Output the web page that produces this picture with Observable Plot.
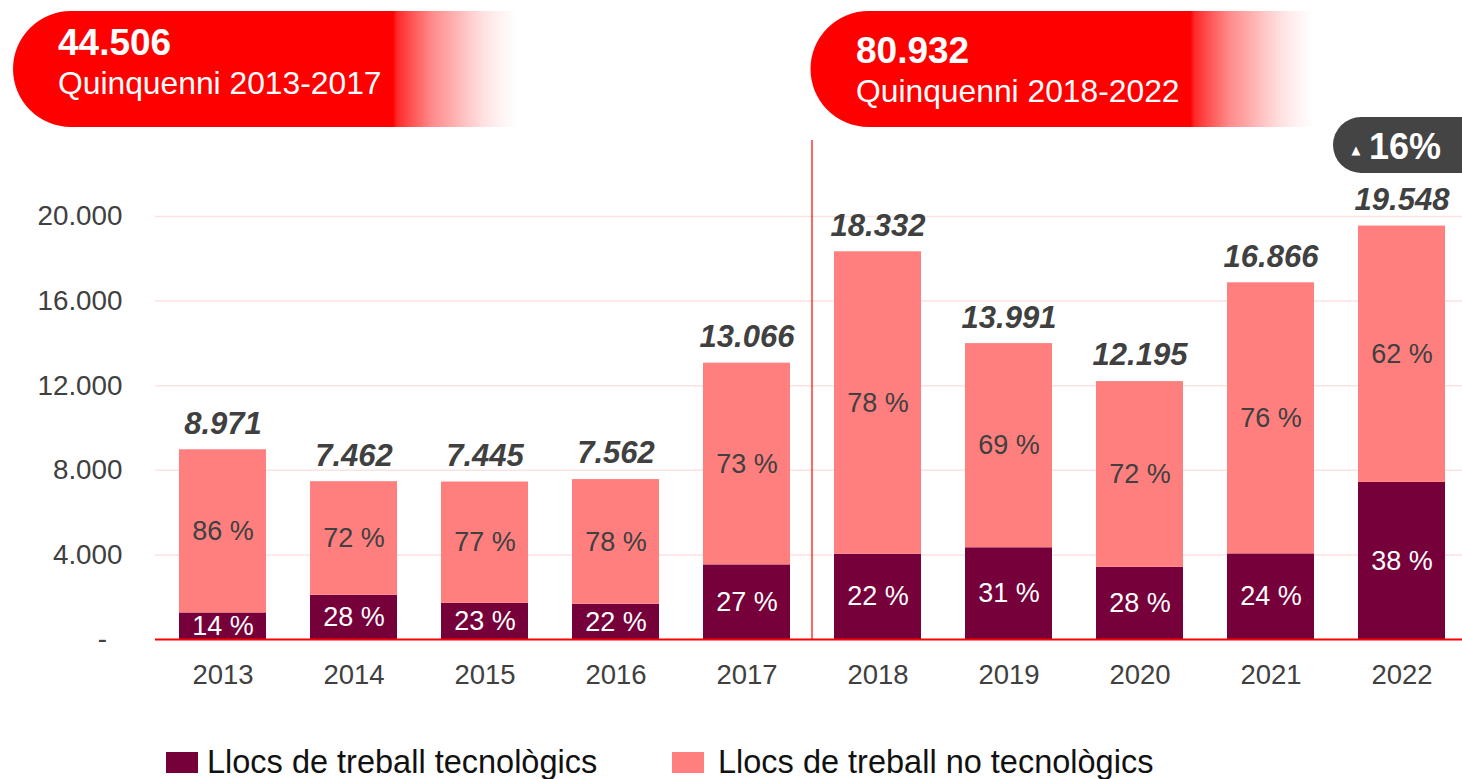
<!DOCTYPE html>
<html>
<head>
<meta charset="utf-8">
<script src="https://cdn.jsdelivr.net/npm/d3@7"></script>
<script src="https://cdn.jsdelivr.net/npm/@observablehq/plot@0.6"></script>
<style>
  body { margin: 0; background: #fff; font-family: "Liberation Sans", Arial, Helvetica, sans-serif; }
  #wrap { position: relative; width: 1462px; height: 779px; overflow: hidden; background: #fff; }
  #chart { position: absolute; left: 0; top: 0; }
  .lg-sw { position: absolute; width: 32px; height: 21px; }
  .lg-tx { position: absolute; font-size: 32.5px; line-height: 32px; color: #111; white-space: nowrap; }
</style>
</head>
<body>
<div id="wrap">
  <div id="chart"></div>
  <div id="legend"></div>
</div>
<script>
// ---- data ----
const years = ["2013", "2014", "2015", "2016", "2017", "2018", "2019", "2020", "2021", "2022"];
const totals = [8971, 7462, 7445, 7562, 13066, 18332, 13991, 12195, 16866, 19548];
const tech = [1256, 2089, 1712, 1664, 3528, 4033, 4337, 3415, 4048, 7428];
const nonTech = [7715, 5373, 5733, 5898, 9538, 14299, 9654, 8780, 12818, 12120];
const techPct = [14, 28, 23, 22, 27, 22, 31, 28, 24, 38];
const nonTechPct = [86, 72, 77, 78, 73, 78, 69, 72, 76, 62];
const yTicks = [0, 4000, 8000, 12000, 16000, 20000];
const seriesNames = ["Llocs de treball tecnològics", "Llocs de treball no tecnològics"];
const seriesColors = ["#76003a", "#ff7f7f"];
const periodLabels = ["Quinquenni 2013-2017", "Quinquenni 2018-2022"];
const periodTotals = ["44.506", "80.932"];
const growthLabel = "16%";

// ---- tables built from the arrays ----
const locale = d3.formatLocale({decimal: ",", thousands: ".", grouping: [3], currency: ["", ""]});
const fmt = locale.format(",d");

const rows = [];
years.forEach((y, i) => {
  rows.push({year: y, series: seriesNames[0], y1: 0, y2: tech[i], mid: tech[i] / 2, label: techPct[i] + " %"});
  rows.push({year: y, series: seriesNames[1], y1: tech[i], y2: tech[i] + nonTech[i], mid: tech[i] + nonTech[i] / 2, label: nonTechPct[i] + " %"});
});
const totalRows = years.map((y, i) => ({year: y, total: totals[i]}));

const W = 1462, H = 700;
const chart = Plot.plot({
  width: W,
  height: H,
  marginLeft: 155,
  marginRight: 0,
  marginTop: 216,
  marginBottom: 61,
  style: {fontFamily: '"Liberation Sans", Arial, Helvetica, sans-serif', fontSize: "27px", color: "#404040", background: "transparent", overflow: "visible"},
  x: {domain: years, range: [155, 1469], paddingInner: 0.337, paddingOuter: 0.173, label: null},
  y: {domain: [0, 20000], label: null},
  color: {domain: seriesNames, range: seriesColors},
  marks: [
    Plot.ruleY(yTicks.filter(d => d > 0), {stroke: "#fde2e2", strokeWidth: 1.5}),
    Plot.axisY({ticks: yTicks, tickSize: 0, tickPadding: 33, fontSize: 27.8,
      tickFormat: d => d === 0 ? "-\u00a0\u00a0" : fmt(d), label: null}),
    Plot.axisX({tickSize: 0, tickPadding: 25, fontSize: 27.5, label: null}),
    Plot.barY(rows, {x: "year", y1: "y1", y2: "y2", fill: "series"}),
    Plot.text(rows.filter(d => d.series === seriesNames[0]), {x: "year", y: "mid", text: "label", fill: "#ffffff", fontSize: 27}),
    Plot.text(rows.filter(d => d.series === seriesNames[1]), {x: "year", y: "mid", text: "label", fill: "#404040", fontSize: 27}),
    Plot.text(totalRows, {x: "year", y: "total", text: d => fmt(d.total), fill: "#404040", fontSize: 31,
      fontStyle: "italic", fontWeight: "bold", dy: -26}),
    Plot.ruleY([0], {stroke: "#ff0000", strokeWidth: 2})
  ]
});
document.getElementById("chart").appendChild(chart);

// ---- annotations drawn on top, positioned with the plot's own scales ----
const sx = chart.scale("x");
const sy = chart.scale("y");
const svg = d3.select(chart);
const gapLeft = sx.apply(years[4]) + sx.bandwidth;
const gapRight = sx.apply(years[5]);
const divX = (gapLeft + gapRight) / 2;

svg.append("line")
  .attr("x1", divX).attr("x2", divX)
  .attr("y1", 140).attr("y2", sy.apply(0))
  .attr("stroke", "#ff0000").attr("stroke-width", 1.2);

const defs = svg.append("defs");
const grad = defs.append("linearGradient").attr("id", "bannerFade").attr("x1", "0").attr("x2", "1").attr("y1", "0").attr("y2", "0");
[[0, 1], [0.754, 1], [0.762, 0.84], [0.788, 0.69], [0.833, 0.45], [0.867, 0.34], [0.901, 0.22], [0.933, 0.12], [0.966, 0.05], [1, 0]]
  .forEach(([o, a]) => grad.append("stop").attr("offset", o).attr("stop-color", "#ff0000").attr("stop-opacity", a));

const ann = svg.append("g").attr("text-anchor", "start");
const banners = [
  {x: 13, y: 11, w: 504, h: 116, tx: 58, b1: 55, b2: 94},
  {x: 810.5, y: 11, w: 504, h: 116, tx: 856, b1: 63, b2: 102}
];
banners.forEach((b, i) => {
  const r = b.h / 2;
  ann.append("path")
    .attr("d", `M${b.x + r},${b.y}H${b.x + b.w}V${b.y + b.h}H${b.x + r}A${r},${r} 0 0 1 ${b.x + r},${b.y}Z`)
    .attr("fill", "url(#bannerFade)");
  ann.append("text").attr("x", b.tx).attr("y", b.b1).attr("text-anchor", "start")
    .attr("fill", "#fff").attr("font-size", 37).attr("font-weight", "bold")
    .text(periodTotals[i]);
  ann.append("text").attr("x", b.tx).attr("y", b.b2).attr("text-anchor", "start")
    .attr("fill", "#fff").attr("font-size", 31.8)
    .text(periodLabels[i]);
});

// growth badge
ann.append("rect").attr("x", 1333).attr("y", 117).attr("width", 160).attr("height", 56)
  .attr("rx", 28).attr("fill", "#444444");
ann.append("text").attr("x", 1356).attr("y", 154).attr("text-anchor", "middle")
  .attr("fill", "#fff").attr("font-size", 11.5).attr("font-family", "DejaVu Sans").text("▲");
ann.append("text").attr("x", 1369).attr("y", 159).attr("text-anchor", "start")
  .attr("fill", "#fff").attr("font-size", 36).attr("font-weight", "bold").text(growthLabel);

// ---- legend (HTML, below the svg) ----
const legend = document.getElementById("legend");
const lgPos = [{sx: 166, tx: 207}, {sx: 672, tx: 718}];
seriesNames.forEach((name, i) => {
  const sw = document.createElement("div");
  sw.className = "lg-sw";
  sw.style.left = lgPos[i].sx + "px";
  sw.style.top = "752px";
  sw.style.background = seriesColors[i];
  legend.appendChild(sw);
  const tx = document.createElement("div");
  tx.className = "lg-tx";
  tx.style.left = lgPos[i].tx + "px";
  tx.style.top = "746px";
  tx.textContent = name;
  legend.appendChild(tx);
});
</script>
</body>
</html>
